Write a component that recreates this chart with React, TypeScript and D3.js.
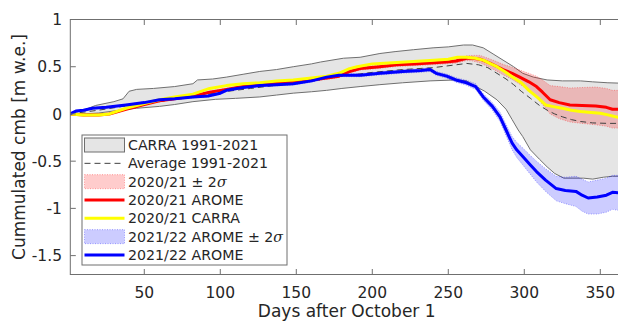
import React from 'react';
import * as d3 from 'd3';

const W = 618;
const H = 321;

const xTicks = [50, 100, 150, 200, 250, 300, 350];
const yTicks = [-1.5, -1, -0.5, 0, 0.5, 1];
const yTickLabels = ['-1.5', '-1', '-0.5', '0', '0.5', '1'];

// CARRA 1991-2021 envelope (max / min)
const carraMax: [number, number][] = [
  [1, 0], [10, 0.04], [18, 0.09], [30, 0.13], [36, 0.16], [40, 0.24], [45, 0.26], [56, 0.27], [70, 0.29],
  [82, 0.32], [85, 0.36], [95, 0.37], [104, 0.39], [115, 0.42], [126, 0.45], [137, 0.47], [148, 0.5],
  [160, 0.53], [166, 0.55], [181, 0.59], [192, 0.6], [205, 0.64], [215, 0.66], [227, 0.68], [240, 0.7],
  [250, 0.71], [260, 0.73], [266, 0.73], [273, 0.7], [280, 0.63], [286, 0.57], [293, 0.5], [299, 0.43],
  [306, 0.39], [315, 0.36], [325, 0.35], [337, 0.35], [345, 0.34], [355, 0.33], [365, 0.325],
];
const carraMin: [number, number][] = [
  [1, 0], [10, 0.0], [20, 0.01], [34, 0.04], [45, 0.06], [60, 0.08], [70, 0.1], [82, 0.13], [97, 0.155],
  [110, 0.165], [126, 0.18], [137, 0.2], [148, 0.22], [160, 0.235], [170, 0.25], [180, 0.27], [192, 0.29],
  [205, 0.31], [220, 0.33], [238, 0.35], [255, 0.36], [262, 0.35], [266, 0.31], [274, 0.24], [282, 0.15],
  [288, 0.05], [292, -0.06], [296, -0.17], [299, -0.24], [304, -0.38], [310, -0.48], [315, -0.56],
  [320, -0.63], [326, -0.68], [332, -0.68], [339, -0.68], [345, -0.69], [352, -0.67], [358, -0.66], [365, -0.66],
];
// Average 1991-2021
const average: [number, number][] = [
  [1, 0], [20, 0.04], [40, 0.09], [60, 0.13], [80, 0.18], [100, 0.23], [120, 0.27], [140, 0.31], [160, 0.35],
  [180, 0.4], [200, 0.44], [220, 0.47], [240, 0.49], [255, 0.52], [262, 0.535], [270, 0.52], [276, 0.49],
  [282, 0.43], [288, 0.37], [293, 0.31], [298, 0.24], [304, 0.166], [310, 0.09], [315, 0.04], [320, 0.0],
  [325, -0.03], [331, -0.06], [337, -0.08], [345, -0.095], [355, -0.1], [365, -0.1],
];
// 2020/21 AROME: [day, value, 2 sigma]
const arome2021: [number, number, number][] = [
  [1, 0, 0.003], [10, -0.01, 0.004], [20, -0.01, 0.005], [27, 0.0, 0.005], [38, 0.05, 0.006], [50, 0.1, 0.007],
  [60, 0.14, 0.007], [70, 0.16, 0.008], [82, 0.19, 0.008], [93, 0.23, 0.009], [104, 0.26, 0.01], [115, 0.29, 0.01],
  [126, 0.31, 0.011], [137, 0.33, 0.012], [148, 0.34, 0.012], [160, 0.36, 0.013], [170, 0.38, 0.014],
  [178, 0.4, 0.015], [185, 0.45, 0.015], [192, 0.48, 0.016], [205, 0.5, 0.017], [216, 0.52, 0.018],
  [227, 0.53, 0.019], [238, 0.54, 0.02], [248, 0.55, 0.02], [255, 0.56, 0.022], [262, 0.59, 0.025],
  [266, 0.59, 0.03], [271, 0.58, 0.04], [277, 0.54, 0.045], [281, 0.51, 0.05], [286, 0.47, 0.055],
  [292, 0.43, 0.065], [297, 0.39, 0.075], [303, 0.34, 0.09], [308, 0.29, 0.11], [312, 0.23, 0.13],
  [317, 0.15, 0.15], [323, 0.12, 0.17], [330, 0.095, 0.18], [338, 0.09, 0.19], [347, 0.085, 0.2],
  [354, 0.07, 0.2], [358, 0.05, 0.2], [365, 0.05, 0.2],
];
// 2020/21 CARRA
const carra2021: [number, number][] = [
  [1, 0], [10, -0.01], [20, -0.01], [27, 0.0], [38, 0.06], [50, 0.11], [60, 0.15], [70, 0.18], [82, 0.21],
  [93, 0.27], [104, 0.3], [115, 0.32], [126, 0.33], [137, 0.35], [148, 0.36], [160, 0.38], [170, 0.4],
  [178, 0.43], [185, 0.48], [190, 0.5], [200, 0.53], [216, 0.545], [238, 0.565], [250, 0.58], [256, 0.6],
  [262, 0.6], [268, 0.59], [273, 0.57], [278, 0.53], [282, 0.5], [287, 0.45], [292, 0.395], [298, 0.33],
  [303, 0.25], [309, 0.17], [314, 0.095], [320, 0.075], [325, 0.06], [331, 0.04], [337, 0.025], [344, 0.015],
  [350, 0.007], [355, -0.01], [360, -0.03], [365, -0.045],
];
// 2021/22 AROME: [day, value, 2 sigma]
const arome2122: [number, number, number][] = [
  [1, 0, 0.005], [5, 0.03, 0.005], [10, 0.04, 0.005], [16, 0.06, 0.006], [25, 0.07, 0.006], [38, 0.095, 0.007],
  [50, 0.12, 0.008], [60, 0.15, 0.008], [70, 0.16, 0.009], [82, 0.18, 0.01], [92, 0.19, 0.01], [100, 0.22, 0.01],
  [104, 0.25, 0.01], [115, 0.28, 0.011], [126, 0.3, 0.012], [137, 0.31, 0.012], [148, 0.32, 0.013],
  [160, 0.35, 0.014], [170, 0.39, 0.015], [178, 0.41, 0.015], [192, 0.41, 0.016], [205, 0.43, 0.017],
  [220, 0.45, 0.018], [232, 0.46, 0.019], [238, 0.47, 0.02], [242, 0.43, 0.02], [249, 0.4, 0.022],
  [255, 0.36, 0.024], [262, 0.33, 0.026], [268, 0.29, 0.03], [273, 0.18, 0.035], [279, 0.08, 0.04],
  [284, -0.03, 0.05], [288, -0.17, 0.06], [292, -0.31, 0.07], [295, -0.38, 0.08], [299, -0.45, 0.09],
  [304, -0.54, 0.1], [308, -0.61, 0.11], [314, -0.7, 0.12], [321, -0.79, 0.13], [327, -0.81, 0.14],
  [334, -0.82, 0.16], [338, -0.86, 0.17], [342, -0.89, 0.17], [348, -0.88, 0.18], [354, -0.86, 0.18],
  [358, -0.83, 0.18], [365, -0.84, 0.19],
];

const legendLabels = [
  'CARRA 1991-2021',
  'Average 1991-2021',
  '2020/21 \u00b1 2',
  '2020/21 AROME',
  '2020/21 CARRA',
  '2021/22 AROME \u00b1 2',
  '2021/22 AROME',
];

const FONT = "'DejaVu Sans', sans-serif";
const TXT = '#262626';

export default function App() {
  const left = 70.3;
  const top = 19.5;
  const bottom = 274.5;
  const x = d3.scaleLinear().domain([1, 365]).range([69.8, 623.1]);
  const y = d3.scaleLinear().domain([-1.7, 1]).range([bottom, top]);
  const right = x(365);

  const line = d3.line<[number, number]>().x(d => x(d[0])).y(d => y(d[1]));
  const line3 = d3.line<[number, number, number]>().x(d => x(d[0])).y(d => y(d[1]));
  const band = d3.area<[number, number, number]>()
    .x(d => x(d[0]))
    .y0(d => y(d[1] - d[2]))
    .y1(d => y(d[1] + d[2]));
  const envPoly = line([...carraMax, ...carraMin.slice().reverse()]) + 'Z';

  const bandUpper = (arr: [number, number, number][]) =>
    d3.line<[number, number, number]>().x(d => x(d[0])).y(d => y(d[1] + d[2]))(arr) || '';
  const bandLower = (arr: [number, number, number][]) =>
    d3.line<[number, number, number]>().x(d => x(d[0])).y(d => y(d[1] - d[2]))(arr) || '';

  const lgX = 82, lgY = 135, lgW = 205, lgH = 130;
  const rowY = (i: number) => 145 + i * 18.33;
  const iconX0 = 84.5, iconX1 = 124.5, textX = 128;

  return (
    <svg width={W} height={H} style={{ position: 'absolute', left: 0, top: 0, background: '#fff' }}
      fontFamily={FONT}>
      <defs>
        <clipPath id="plotclip">
          <rect x={left} y={top} width={right - left} height={bottom - top} />
        </clipPath>
      </defs>
      <g clipPath="url(#plotclip)">
        <path d={envPoly} fill="#e5e5e5" stroke="none" />
        <path d={line(carraMax) || ''} fill="none" stroke="#6f6f6f" strokeWidth={1} />
        <path d={line(carraMin) || ''} fill="none" stroke="#6f6f6f" strokeWidth={1} />
        <path d={band(arome2021) || ''} fill="#ff0000" fillOpacity={0.2} stroke="none" />
        <path d={bandUpper(arome2021)} fill="none" stroke="#ff0000" strokeOpacity={0.5} strokeWidth={0.7} strokeDasharray="1,1.5" />
        <path d={bandLower(arome2021)} fill="none" stroke="#ff0000" strokeOpacity={0.5} strokeWidth={0.7} strokeDasharray="1,1.5" />
        <path d={band(arome2122) || ''} fill="#0000ff" fillOpacity={0.2} stroke="none" />
        <path d={bandUpper(arome2122)} fill="none" stroke="#0000ff" strokeOpacity={0.5} strokeWidth={0.7} strokeDasharray="1,1.5" />
        <path d={bandLower(arome2122)} fill="none" stroke="#0000ff" strokeOpacity={0.5} strokeWidth={0.7} strokeDasharray="1,1.5" />
        <path d={line(average) || ''} fill="none" stroke="#404040" strokeWidth={1} strokeDasharray="6,4" />
        <path d={line3(arome2021) || ''} fill="none" stroke="#ff0000" strokeWidth={3} strokeLinejoin="round" />
        <path d={line(carra2021) || ''} fill="none" stroke="#ffff00" strokeWidth={3} strokeLinejoin="round" />
        <path d={line3(arome2122) || ''} fill="none" stroke="#0000ff" strokeWidth={3} strokeLinejoin="round" />
      </g>

      {/* axes box */}
      <rect x={left} y={top} width={right - left} height={bottom - top} fill="none" stroke="#6f6f6f" strokeWidth={1} />
      {xTicks.map(t => (
        <g key={'xt' + t}>
          <line x1={x(t)} x2={x(t)} y1={bottom} y2={bottom - 5.5} stroke="#6f6f6f" />
          <line x1={x(t)} x2={x(t)} y1={top} y2={top + 5.5} stroke="#6f6f6f" />
          <text x={x(t)} y={297.5} textAnchor="middle" fontSize={15.5} fill={TXT}>{t}</text>
        </g>
      ))}
      {yTicks.map((t, i) => (
        <g key={'yt' + t}>
          <line x1={left} x2={left + 5.5} y1={y(t)} y2={y(t)} stroke="#6f6f6f" />
          <text x={62} y={y(t)} dy="0.36em" textAnchor="end" fontSize={15.5} fill={TXT}>{yTickLabels[i]}</text>
        </g>
      ))}
      <text x={(left + right) / 2} y={316.5} textAnchor="middle" fontSize={17} fill={TXT}>Days after October 1</text>
      <text transform={`translate(25,${(top + bottom) / 2}) rotate(-90)`} textAnchor="middle" fontSize={17} fill={TXT}>
        Cummulated cmb [m w.e.]
      </text>

      {/* legend */}
      <rect x={lgX} y={lgY} width={lgW} height={lgH} fill="#fff" stroke="#6f6f6f" strokeWidth={1} />
      <rect x={iconX0} y={rowY(0) - 7} width={iconX1 - iconX0} height={14} fill="#e5e5e5" stroke="#6f6f6f" />
      <line x1={iconX0} x2={iconX1} y1={rowY(1)} y2={rowY(1)} stroke="#404040" strokeDasharray="6,4" />
      <rect x={iconX0} y={rowY(2) - 7} width={iconX1 - iconX0} height={14} fill="#ff0000" fillOpacity={0.2}
        stroke="#ff0000" strokeOpacity={0.5} strokeWidth={0.7} strokeDasharray="1,1.5" />
      <line x1={iconX0} x2={iconX1} y1={rowY(3)} y2={rowY(3)} stroke="#ff0000" strokeWidth={3} />
      <line x1={iconX0} x2={iconX1} y1={rowY(4)} y2={rowY(4)} stroke="#ffff00" strokeWidth={3} />
      <rect x={iconX0} y={rowY(5) - 7} width={iconX1 - iconX0} height={14} fill="#0000ff" fillOpacity={0.2}
        stroke="#0000ff" strokeOpacity={0.5} strokeWidth={0.7} strokeDasharray="1,1.5" />
      <line x1={iconX0} x2={iconX1} y1={rowY(6)} y2={rowY(6)} stroke="#0000ff" strokeWidth={3} />
      {legendLabels.map((lab, i) => (
        <text key={'lg' + i} x={textX} y={rowY(i)} dy="0.36em" fontSize={14.2} fill={TXT}>
          {lab}
          {(i === 2 || i === 5) && <tspan fontStyle="italic" fontFamily="'DejaVu Serif', serif">{'\u03c3'}</tspan>}
        </text>
      ))}
    </svg>
  );
}
